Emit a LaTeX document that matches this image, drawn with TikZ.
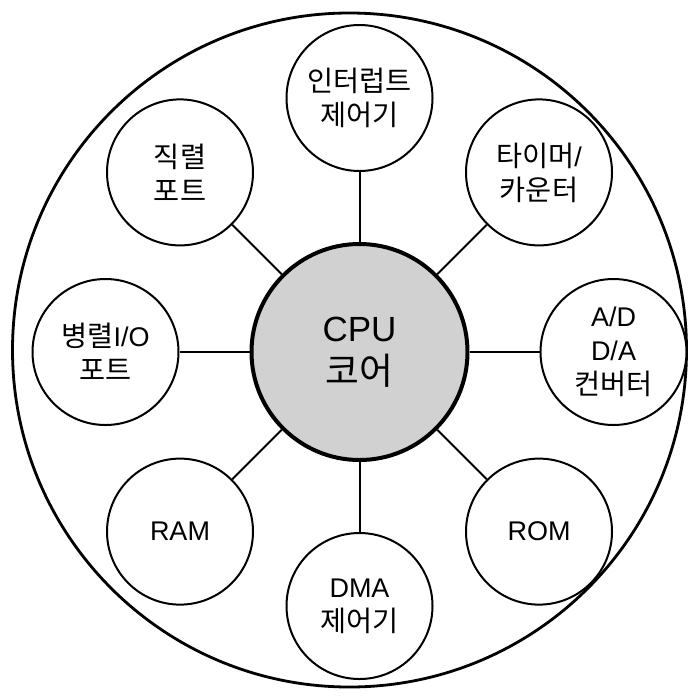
\documentclass[tikz,border=0pt]{standalone}
\usepackage{fontspec}
\setmainfont{Liberation Sans}
\newfontfamily\kr{Noto Sans CJK KR}[Scale=1.05]
\begin{document}
\begin{tikzpicture}[x=1pt,y=-1pt,
  unit/.style={circle,draw=black,line width=2pt,fill=white,minimum size=146pt,inner sep=0pt,
    align=center,font=\fontsize{27}{34}\selectfont},
  core/.style={circle,draw=black,line width=4pt,fill=black!18,minimum size=216pt,inner sep=0pt,
    align=center,font=\fontsize{35}{43}\selectfont},
  link/.style={line width=2pt,draw=black}]
\useasboundingbox (0,0) rectangle (698,697);
% outer boundary of the chip
\draw[line width=2.8pt] (349.5,350) circle[radius=337];
% processor core
\node[core] (cpu) at (359.5,352) {CPU\\{\kr 코어}};
% peripheral blocks around the core
\node[unit] (irq) at (359.5,98) {{\kr 인터럽트}\\{\kr 제어기}};
\node[unit] (tmr) at (539,172.4) {{\kr 타이머}/\\{\kr 카운터}};
\node[unit] (adc) at (613.5,352) {A/D\\D/A\\{\kr 컨버터}};
\node[unit] (rom) at (539,531.6) {ROM};
\node[unit] (dma) at (359.5,606) {DMA\\{\kr 제어기}};
\node[unit] (ram) at (180,531.6) {RAM};
\node[unit] (pio) at (105.5,352) {{\kr 병렬}I/O\\{\kr 포트}};
\node[unit] (sio) at (180,172.4) {{\kr 직렬}\\{\kr 포트}};
% connections from the core
\foreach \n in {irq,tmr,adc,rom,dma,ram,pio,sio}
  \draw[link] (cpu) -- (\n);
\end{tikzpicture}
\end{document}
